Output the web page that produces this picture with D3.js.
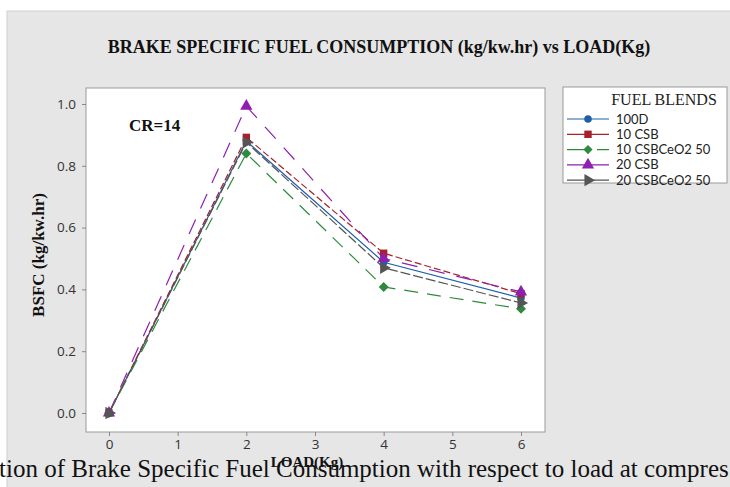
<!DOCTYPE html>
<html>
<head>
<meta charset="utf-8">
<script src="https://cdn.jsdelivr.net/npm/d3@7"></script>
<style>
  html, body { margin: 0; padding: 0; background: #fff; }
  svg { display: block; }
</style>
</head>
<body>
<svg id="chart" width="730" height="487"></svg>
<script>
// Load (kg) on the x axis
const loads = [0, 2, 4, 6];

// BSFC (kg/kW.hr) for each fuel blend
const bsfc100D      = [0.00, 0.88, 0.488, 0.372];
const bsfc10CSB     = [0.00, 0.892, 0.517, 0.386];
const bsfc10CSBCeO2 = [0.00, 0.840, 0.408, 0.337];
const bsfc20CSB     = [0.00, 0.993, 0.500, 0.392];
const bsfc20CSBCeO2 = [0.00, 0.876, 0.470, 0.356];

const seriesNames = ["100D", "10 CSB", "10 CSBCeO2 50", "20 CSB", "20 CSBCeO2 50"];
const xTicks = [0, 1, 2, 3, 4, 5, 6];
const yTicks = [0.0, 0.2, 0.4, 0.6, 0.8, 1.0];

// Diamond markers are squares turned by 45 degrees
const series = [
  { name: seriesNames[0], values: bsfc100D,      color: "#1f5fa8", dash: null,    symbol: d3.symbolCircle,   size: 45 },
  { name: seriesNames[1], values: bsfc10CSB,     color: "#a8202a", dash: "7,3",   symbol: d3.symbolSquare,   size: 55 },
  { name: seriesNames[2], values: bsfc10CSBCeO2, color: "#2e8b3e", dash: "14,9",  symbol: d3.symbolSquare,   size: 50, rotate: 45 },
  { name: seriesNames[3], values: bsfc20CSB,     color: "#8e1fb0", dash: "16,12", symbol: d3.symbolTriangle, size: 65 },
  { name: seriesNames[4], values: bsfc20CSBCeO2, color: "#555555", dash: "10,3",  symbol: d3.symbolTriangle, size: 65, rotate: 90 }
];

const serif = "Liberation Serif, Times New Roman, serif";
const sans = "Open Sans, DejaVu Sans, sans-serif";

const svg = d3.select("#chart");

// Grey frame behind everything
svg.append("rect").attr("x", 7).attr("y", 11).attr("width", 730).attr("height", 480)
  .attr("fill", "#e6e6e6").attr("stroke", "#d0d0d0");

// Title
svg.append("text").attr("x", 379).attr("y", 53).attr("text-anchor", "middle")
  .attr("font-family", serif).attr("font-weight", "bold")
  .attr("font-size", 18).attr("fill", "#111")
  .text("BRAKE SPECIFIC FUEL CONSUMPTION (kg/kw.hr) vs LOAD(Kg)");

// Plot area
const plot = { left: 86, top: 88, right: 545, bottom: 432 };
svg.append("rect").attr("x", plot.left).attr("y", plot.top)
  .attr("width", plot.right - plot.left).attr("height", plot.bottom - plot.top)
  .attr("fill", "#fff").attr("stroke", "#9a9a9a");

const x = d3.scaleLinear().domain([0, 6]).range([109, 521]);
const y = d3.scaleLinear().domain([0, 1]).range([413, 104]);

// Axes
const xAxis = svg.append("g").attr("transform", `translate(0,${plot.bottom})`)
  .call(d3.axisBottom(x).tickValues(xTicks).tickFormat(d3.format("d")).tickSize(4).tickPadding(3));
const yAxis = svg.append("g").attr("transform", `translate(${plot.left},0)`)
  .call(d3.axisLeft(y).tickValues(yTicks).tickFormat(d3.format(".1f")).tickSize(4).tickPadding(6));
[xAxis, yAxis].forEach(a => {
  a.select(".domain").remove();
  a.selectAll(".tick line").attr("stroke", "#888");
  a.selectAll(".tick text").attr("fill", "#333").attr("font-size", 13.5)
    .attr("font-family", sans);
});

// Axis titles
svg.append("text").attr("transform", "translate(44,255) rotate(-90)").attr("text-anchor", "middle")
  .attr("font-family", serif).attr("font-weight", "bold")
  .attr("font-size", 17).attr("fill", "#111").text("BSFC (kg/kw.hr)");
svg.append("text").attr("x", 307).attr("y", 467).attr("text-anchor", "middle")
  .attr("font-family", serif).attr("font-weight", "bold")
  .attr("font-size", 15).attr("fill", "#111").text("LOAD(Kg)");

// Annotation
svg.append("text").attr("x", 129).attr("y", 131)
  .attr("font-family", serif).attr("font-weight", "bold")
  .attr("font-size", 17).attr("fill", "#111").text("CR=14");

// Lines and markers
const line = d3.line().x((d, i) => x(loads[i])).y(d => y(d));
series.forEach(s => {
  svg.append("path").datum(s.values).attr("d", line)
    .attr("fill", "none").attr("stroke", s.color).attr("stroke-width", 1.2)
    .attr("stroke-dasharray", s.dash);
});
series.forEach(s => {
  svg.selectAll(null).data(s.values).enter().append("path")
    .attr("d", d3.symbol().type(s.symbol).size(s.size))
    .attr("transform", (d, i) => `translate(${x(loads[i])},${y(d)}) rotate(${s.rotate || 0})`)
    .attr("fill", s.color);
});

// Legend
const lg = svg.append("g").attr("transform", "translate(563,87)");
lg.append("rect").attr("width", 164).attr("height", 96).attr("fill", "#fff").attr("stroke", "#9a9a9a");
lg.append("text").attr("x", 101).attr("y", 18).attr("text-anchor", "middle")
  .attr("font-family", serif).attr("font-size", 16).attr("fill", "#222")
  .text("FUEL BLENDS");
series.forEach((s, i) => {
  const yy = 32 + i * 15.3;
  lg.append("line").attr("x1", 4).attr("x2", 46).attr("y1", yy).attr("y2", yy)
    .attr("stroke", s.color).attr("stroke-width", 1.2)
    .attr("stroke-dasharray", i === 2 ? "24,6" : null);
  lg.append("path").attr("d", d3.symbol().type(s.symbol).size(i === 2 ? 42 : s.size))
    .attr("transform", `translate(25,${yy}) rotate(${s.rotate || 0})`).attr("fill", s.color);
  lg.append("text").attr("x", 53).attr("y", yy + 4.5)
    .attr("font-family", "Lato, DejaVu Sans, sans-serif").attr("font-size", 13).attr("fill", "#222")
    .text(s.name);
});

// Figure caption overlapping the bottom edge
svg.append("text").attr("x", -1).attr("y", 477)
  .attr("font-family", serif).attr("font-size", 25).attr("fill", "#111")
  .text("tion of Brake Specific Fuel Consumption with respect to load at compres");
</script>
</body>
</html>
